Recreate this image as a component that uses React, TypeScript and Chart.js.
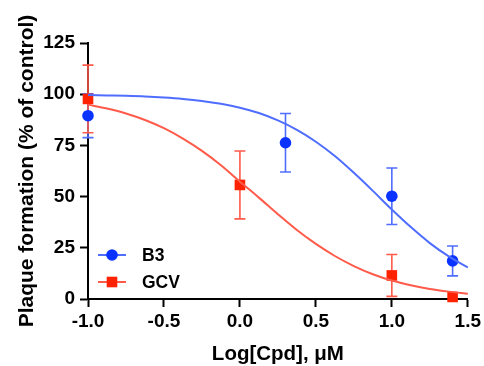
import React, { useEffect, useRef } from "react";
import { Chart, registerables } from "chart.js";

Chart.register(...registerables);

// ---- data ----
const xTicks = [-1.0, -0.5, 0.0, 0.5, 1.0, 1.5];
const yTicks = [0, 25, 50, 75, 100, 125];

// fitted curves
const curveX = [
  -1, -0.875, -0.75, -0.625, -0.5, -0.375, -0.25, -0.125, 0, 0.125, 0.25,
  0.375, 0.5, 0.625, 0.75, 0.875, 1.0, 1.125, 1.25, 1.375, 1.5,
];
const b3Curve = [
  99.6, 99.4, 99.2, 98.9, 98.4, 97.7, 96.7, 95.3, 93.4, 90.8, 87.2,
  82.6, 76.8, 69.8, 61.6, 52.8, 43.7, 35.1, 27.3, 20.8, 15.4,
];
const gcvCurve = [
  94.9, 93.0, 90.6, 87.4, 83.4, 78.3, 72.3, 65.3, 57.3, 49.5, 41.4,
  33.7, 26.9, 21.0, 16.1, 12.1, 9.0, 6.7, 4.9, 3.6, 2.6,
];

// measured points with error bars
const b3X = [-1.0, 0.3, 1.0, 1.4];
const b3Y = [89.5, 76.3, 50.2, 18.6];
const b3Err = [10.7, 14.3, 13.8, 7.3];

const gcvX = [-1.0, 0.0, 1.0, 1.4];
const gcvY = [97.7, 55.7, 11.5, 1.0];
const gcvErr = [16.5, 16.6, 10.2, 0];

const seriesNames = ["B3", "GCV"];

const BLUE = "#0a33ff";
const BLUE_LIGHT = "#4f6dff";
const RED = "#ff2200";
const RED_LIGHT = "#ff5a4a";
const FONT = "'Liberation Sans', Arial, Helvetica, sans-serif";

const errorBarPlugin = {
  id: "errorBars",
  beforeDatasetsDraw(chart: any) {
    const { ctx } = chart;
    const yScale = chart.scales.y;
    chart.data.datasets.forEach((ds: any, i: number) => {
      if (!ds.errors) return;
      const meta = chart.getDatasetMeta(i);
      ctx.save();
      ctx.strokeStyle = ds.errorColor;
      ctx.lineWidth = 1.6;
      meta.data.forEach((pt: any, j: number) => {
        const e = ds.errors[j];
        if (!e) return;
        const v = ds.data[j].y;
        const x = pt.x;
        const yTop = yScale.getPixelForValue(v + e);
        const yBot = yScale.getPixelForValue(v - e);
        const cap = 5.5;
        ctx.beginPath();
        ctx.moveTo(x, yTop);
        ctx.lineTo(x, yBot);
        ctx.moveTo(x - cap, yTop);
        ctx.lineTo(x + cap, yTop);
        ctx.moveTo(x - cap, yBot);
        ctx.lineTo(x + cap, yBot);
        ctx.stroke();
      });
      ctx.restore();
    });
  },
};

const legendPlugin = {
  id: "insideLegend",
  afterDraw(chart: any) {
    const { ctx, chartArea } = chart;
    const items = [
      { name: seriesNames[0], line: BLUE_LIGHT, fill: BLUE, shape: "circle", dy: -44 },
      { name: seriesNames[1], line: RED_LIGHT, fill: RED, shape: "rect", dy: -17 },
    ];
    ctx.save();
    items.forEach((it) => {
      const y = chartArea.bottom + it.dy;
      const x0 = chartArea.left + 10;
      const x1 = chartArea.left + 38;
      const cx = (x0 + x1) / 2;
      ctx.strokeStyle = it.line;
      ctx.lineWidth = 2;
      ctx.beginPath();
      ctx.moveTo(x0, y);
      ctx.lineTo(x1, y);
      ctx.stroke();
      ctx.fillStyle = it.fill;
      if (it.shape === "circle") {
        ctx.beginPath();
        ctx.arc(cx, y, 5.8, 0, Math.PI * 2);
        ctx.fill();
      } else {
        ctx.fillRect(cx - 5.3, y - 5.3, 10.6, 10.6);
      }
      ctx.fillStyle = "#000";
      ctx.font = `bold 17.5px ${FONT}`;
      ctx.textBaseline = "middle";
      ctx.textAlign = "left";
      ctx.fillText(it.name, chartArea.left + 54, y + 1);
    });
    ctx.restore();
  },
};

export default function App() {
  const canvasRef = useRef<HTMLCanvasElement | null>(null);

  useEffect(() => {
    if (!canvasRef.current) return;
    const toXY = (xs: number[], ys: number[]) => xs.map((x, i) => ({ x, y: ys[i] }));

    const chart = new Chart(canvasRef.current, {
      type: "scatter",
      data: {
        datasets: [
          {
            label: "B3 fit",
            data: toXY(curveX, b3Curve),
            showLine: true,
            borderColor: BLUE_LIGHT,
            borderWidth: 2,
            pointRadius: 0,
            cubicInterpolationMode: "monotone",
            clip: false,
          } as any,
          {
            label: "GCV fit",
            data: toXY(curveX, gcvCurve),
            showLine: true,
            borderColor: RED_LIGHT,
            borderWidth: 2,
            pointRadius: 0,
            cubicInterpolationMode: "monotone",
            clip: false,
          } as any,
          {
            label: seriesNames[0],
            data: toXY(b3X, b3Y),
            errors: b3Err,
            errorColor: BLUE_LIGHT,
            showLine: false,
            pointStyle: "circle",
            pointRadius: 5.8,
            backgroundColor: BLUE,
            borderColor: BLUE,
            borderWidth: 0,
            clip: false,
          } as any,
          {
            label: seriesNames[1],
            data: toXY(gcvX, gcvY),
            errors: gcvErr,
            errorColor: RED_LIGHT,
            showLine: false,
            pointStyle: "rect",
            pointRadius: 7.5,
            backgroundColor: RED,
            borderColor: RED,
            borderWidth: 0,
            clip: false,
          } as any,
        ],
      },
      options: {
        animation: false,
        responsive: false,
        maintainAspectRatio: false,
        layout: { padding: { top: 43, right: 15, left: 0, bottom: 0 } },
        plugins: {
          legend: { display: false },
          tooltip: { enabled: false },
        },
        scales: {
          x: {
            type: "linear",
            min: -1,
            max: 1.5,
            afterBuildTicks: (scale: any) => {
              scale.ticks = xTicks.map((v) => ({ value: v }));
            },
            afterFit: (scale: any) => {
              scale.height = 67;
            },
            border: { display: true, color: "#000", width: 2 },
            grid: {
              display: true,
              drawOnChartArea: false,
              drawTicks: true,
              tickLength: 8,
              tickWidth: 2,
              tickColor: "#000",
            },
            ticks: {
              color: "#000",
              padding: 3,
              maxRotation: 0,
              autoSkip: false,
              font: { family: FONT, size: 19, weight: "bold" },
              callback: (v: any) => Number(v).toFixed(1),
            },
            title: {
              display: true,
              text: "Log[Cpd], \u03BCM",
              color: "#000",
              padding: { top: 0, bottom: 1 },
              font: { family: FONT, size: 20.5, weight: "bold", lineHeight: 1 },
            },
          },
          y: {
            type: "linear",
            min: 0,
            max: 125,
            afterBuildTicks: (scale: any) => {
              scale.ticks = yTicks.map((v) => ({ value: v }));
            },
            afterFit: (scale: any) => {
              scale.width = 88;
            },
            border: { display: true, color: "#000", width: 2 },
            grid: {
              display: true,
              drawOnChartArea: false,
              drawTicks: true,
              tickLength: 8,
              tickWidth: 2,
              tickColor: "#000",
            },
            ticks: {
              color: "#000",
              padding: 5,
              autoSkip: false,
              font: { family: FONT, size: 19, weight: "bold" },
              callback: (v: any) => String(v),
            },
            title: {
              display: true,
              text: "Plaque formation (% of control)",
              color: "#000",
              padding: { top: 17, bottom: 0 },
              font: { family: FONT, size: 21, weight: "bold", lineHeight: 1 },
            },
          },
        },
      } as any,
      plugins: [errorBarPlugin, legendPlugin],
    });

    return () => chart.destroy();
  }, []);

  return (
    <div style={{ position: "fixed", left: 0, top: 0, width: 484, height: 366, background: "#fff" }}>
      <canvas ref={canvasRef} width={484} height={366} style={{ width: 484, height: 366 }} />
    </div>
  );
}
